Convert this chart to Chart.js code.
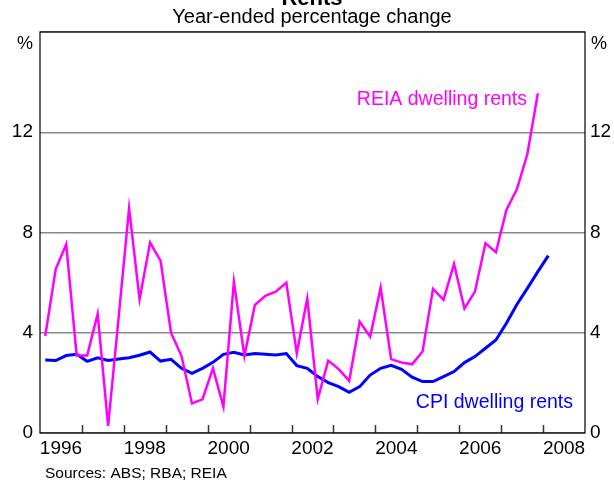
<!DOCTYPE html>
<html>
<head>
<meta charset="utf-8">
<script src="https://cdn.jsdelivr.net/npm/chart.js@4/dist/chart.umd.min.js"></script>
<style>
  html, body { margin: 0; padding: 0; background: #fff; }
  canvas { display: block; }
</style>
</head>
<body>
<canvas id="chart" width="614" height="482"></canvas>
<script>
// quarters, plotted at mid-quarter
const quarters = [
  '1996Q1', '1996Q2', '1996Q3', '1996Q4', '1997Q1', '1997Q2', '1997Q3', '1997Q4',
  '1998Q1', '1998Q2', '1998Q3', '1998Q4', '1999Q1', '1999Q2', '1999Q3', '1999Q4',
  '2000Q1', '2000Q2', '2000Q3', '2000Q4', '2001Q1', '2001Q2', '2001Q3', '2001Q4',
  '2002Q1', '2002Q2', '2002Q3', '2002Q4', '2003Q1', '2003Q2', '2003Q3', '2003Q4',
  '2004Q1', '2004Q2', '2004Q3', '2004Q4', '2005Q1', '2005Q2', '2005Q3', '2005Q4',
  '2006Q1', '2006Q2', '2006Q3', '2006Q4', '2007Q1', '2007Q2', '2007Q3', '2007Q4',
  '2008Q1'
];

// REIA dwelling rents, year-ended % change (to 2007Q4)
const reiaRents = [
  3.87, 6.54, 7.53, 3.09, 3.09, 4.75, 0.28, 4.6,
  8.97, 5.33, 7.6, 6.88, 4.0, 3.07, 1.18, 1.34,
  2.58, 1.05, 6.04, 3.07, 5.11, 5.47, 5.64, 6.0,
  3.18, 5.37, 1.35, 2.89, 2.55, 2.08, 4.44, 3.84,
  5.8, 2.95, 2.81, 2.74, 3.25, 5.75, 5.31, 6.75,
  4.97, 5.64, 7.57, 7.21, 8.9, 9.72, 11.13, 13.55
];

// CPI dwelling rents, year-ended % change (to 2008Q1)
const cpiRents = [
  2.91, 2.89, 3.09, 3.14, 2.86, 3.0, 2.89, 2.95,
  3.0, 3.1, 3.23, 2.87, 2.94, 2.58, 2.38, 2.58,
  2.82, 3.14, 3.22, 3.11, 3.17, 3.14, 3.11, 3.17,
  2.69, 2.58, 2.25, 2.01, 1.85, 1.62, 1.85, 2.31,
  2.58, 2.7, 2.54, 2.23, 2.05, 2.05, 2.25, 2.45,
  2.81, 3.05, 3.38, 3.71, 4.38, 5.13, 5.77, 6.44,
  7.08
];

const yearLabels = [1996, 1998, 2000, 2002, 2004, 2006, 2008];
const yearTicks = [1997, 1998, 1999, 2000, 2001, 2002, 2003, 2004, 2005, 2006, 2007, 2008];
const yTicks = [0, 4, 8, 12];

const FONT = "'Liberation Sans', Arial, sans-serif";

function quarterX(q) {
  const year = parseInt(q.slice(0, 4));
  const n = parseInt(q.slice(5));
  return year + (n - 0.5) / 4;
}

function toPoints(values) {
  return values.map((v, i) => ({ x: quarterX(quarters[i]), y: v }));
}

// frame, inside tick marks and free text
const decorations = {
  id: 'decorations',
  afterDatasetsDraw(chart) {
    const { ctx, chartArea: a, scales } = chart;
    ctx.save();

    ctx.strokeStyle = '#333';
    ctx.lineWidth = 1.5;
    yearTicks.forEach(y => {
      const px = Math.round(scales.x.getPixelForValue(y)) + 0.5;
      ctx.beginPath();
      ctx.moveTo(px, a.bottom);
      ctx.lineTo(px, a.bottom - 8);
      ctx.stroke();
    });

    ctx.strokeStyle = '#000';
    ctx.lineWidth = 1.2;
    ctx.strokeRect(a.left, a.top, a.right - a.left, a.bottom - a.top);

    ctx.fillStyle = '#000';
    ctx.textBaseline = 'alphabetic';
    ctx.textAlign = 'center';
    ctx.font = 'bold 22px ' + FONT;
    ctx.fillText('Rents', 312, 5);
    ctx.font = '20px ' + FONT;
    ctx.fillText('Year-ended percentage change', 312, 23);

    ctx.font = '18px ' + FONT;
    ctx.textAlign = 'right';
    ctx.fillText('%', 33, 49);
    ctx.textAlign = 'left';
    ctx.fillText('%', 591, 49);

    ctx.font = '15.5px ' + FONT;
    ctx.fillText('Sources: ABS; RBA; REIA', 45, 478);

    ctx.font = '19.5px ' + FONT;
    ctx.textAlign = 'right';
    ctx.fillStyle = '#ff00ff';
    ctx.fillText('REIA dwelling rents', 527, 105);
    ctx.fillStyle = '#0000ff';
    ctx.fillText('CPI dwelling rents', 573, 408);

    ctx.restore();
  }
};

const tickFont = { family: FONT, size: 19 };

new Chart(document.getElementById('chart'), {
  type: 'line',
  data: {
    datasets: [
      {
        label: 'REIA dwelling rents',
        data: toPoints(reiaRents),
        borderColor: '#ff00ff',
        borderWidth: 2.5,
        pointRadius: 0,
        tension: 0,
        yAxisID: 'y'
      },
      {
        label: 'CPI dwelling rents',
        data: toPoints(cpiRents),
        borderColor: '#0000ff',
        borderWidth: 3,
        pointRadius: 0,
        tension: 0,
        yAxisID: 'y'
      }
    ]
  },
  options: {
    responsive: false,
    animation: false,
    layout: { padding: { top: 32, left: 0, right: 0, bottom: 0 } },
    plugins: {
      legend: { display: false },
      tooltip: { enabled: false }
    },
    scales: {
      x: {
        type: 'linear',
        min: 1996,
        max: 2009,
        afterBuildTicks: s => { s.ticks = yearLabels.map(y => ({ value: y + 0.5 })); },
        afterFit: s => { s.height = 49; },
        ticks: {
          callback: v => String(Math.floor(v)),
          font: tickFont,
          color: '#000',
          padding: 4,
          maxRotation: 0,
          autoSkip: false
        },
        grid: { display: false, drawTicks: false },
        border: { display: false }
      },
      y: {
        position: 'left',
        min: 0,
        max: 16,
        afterBuildTicks: s => { s.ticks = yTicks.concat([16]).map(v => ({ value: v })); },
        afterFit: s => { s.width = 40; },
        ticks: {
          callback: v => (yTicks.includes(v) ? String(v) : ''),
          font: tickFont,
          color: '#000',
          padding: 7
        },
        grid: { color: '#888', lineWidth: 1.5, drawTicks: false },
        border: { display: false }
      },
      y2: {
        position: 'right',
        min: 0,
        max: 16,
        afterBuildTicks: s => { s.ticks = yTicks.map(v => ({ value: v })); },
        afterFit: s => { s.width = 29; },
        ticks: {
          font: tickFont,
          color: '#000',
          padding: 5
        },
        grid: { display: false, drawTicks: false },
        border: { display: false }
      }
    }
  },
  plugins: [decorations]
});
</script>
</body>
</html>
